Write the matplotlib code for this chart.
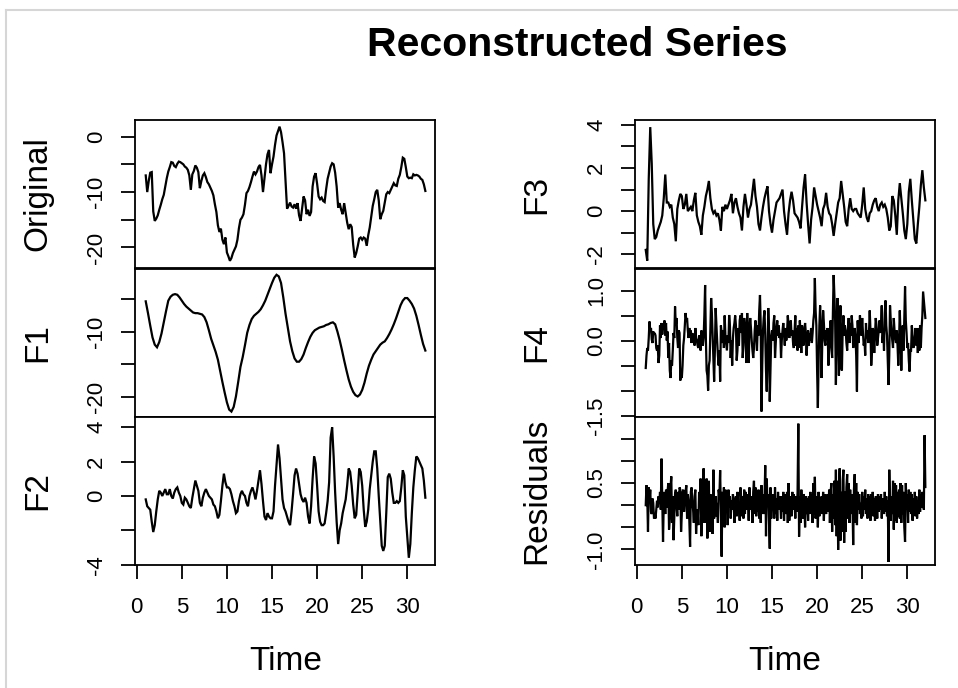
import numpy as np
import matplotlib
matplotlib.use("Agg")
import matplotlib.pyplot as plt
from matplotlib.lines import Line2D

plt.rcParams['font.family'] = ['Liberation Sans', 'DejaVu Sans']

# ---------------- data (time series start at 1) ----------------
start_time = 1.0

orig_freq = 6
original = [
    -7.0, -10.0, -8.0, -6.5, -6.4, -13.5,
    -15.2, -14.8, -14.2, -13.2, -12.3, -11.3,
    -10.5, -9.0, -7.5, -6.3, -5.5, -4.6,
    -4.7, -5.3, -5.5, -4.9, -4.5, -4.6,
    -4.8, -5.0, -5.4, -5.6, -6.0, -7.0,
    -9.6, -6.8, -6.2, -5.2, -5.6, -6.4,
    -9.3, -8.0, -7.0, -6.6, -7.3, -8.2,
    -8.6, -9.2, -9.8, -10.6, -12.2, -13.6,
    -16.0, -17.2, -16.6, -18.6, -19.4, -18.2,
    -20.9, -21.6, -22.4, -21.9, -21.0, -20.4,
    -19.8, -18.6, -16.5, -15.0, -14.6, -14.0,
    -12.3, -10.2, -9.8, -9.1, -8.2, -7.2,
    -6.3, -6.8, -6.3, -5.5, -5.1, -7.0,
    -10.0, -7.5, -5.0, -3.2, -2.4, -6.6,
    -5.0, -3.6, -1.5, 0.2, 1.0, 1.8,
    0.8, -1.0, -3.0, -8.0, -13.0, -12.5,
    -11.9, -12.6, -12.8, -12.2, -13.0, -12.0,
    -14.2, -15.2, -13.0, -10.8, -11.5, -14.0,
    -13.2, -14.3, -13.6, -9.0, -7.2, -6.6,
    -8.5, -10.8, -11.3, -11.0, -11.6, -11.8,
    -9.5, -7.6, -6.5, -5.4, -4.8, -5.0,
    -6.5, -9.0, -12.8, -12.0, -13.2, -14.0,
    -12.0, -13.8, -15.5, -16.7, -15.8, -16.3,
    -19.5, -21.8, -21.0, -19.8, -18.4, -18.2,
    -18.6, -18.2, -18.4, -19.7, -17.8, -16.4,
    -14.5, -12.5, -11.3, -10.0, -9.6, -11.5,
    -14.9, -14.0, -13.4, -11.9, -10.4, -10.0,
    -10.2, -9.6, -9.0, -8.4, -8.8, -8.9,
    -7.6, -6.9, -5.5, -3.8, -4.0, -5.5,
    -7.2, -7.5, -7.4, -7.5, -6.8, -7.0,
    -6.9, -7.0, -7.2, -7.6, -7.8, -8.6,
    -9.8,
]

f1_freq = 4
f1 = [
    -5.4, -7.2, -9.1, -10.9, -12.0, -12.4, -11.6, -10.3,
    -8.6, -6.9, -5.3, -4.7, -4.4, -4.3, -4.4, -4.8,
    -5.3, -5.8, -6.2, -6.5, -6.8, -7.1, -7.2, -7.2,
    -7.3, -7.4, -7.8, -8.6, -9.8, -11.1, -12.1, -13.1,
    -14.3, -16.0, -17.7, -19.3, -20.8, -21.9, -22.2, -21.5,
    -19.9, -17.7, -15.4, -13.9, -12.1, -10.2, -9.0, -8.1,
    -7.6, -7.3, -7.0, -6.6, -6.0, -5.3, -4.4, -3.5,
    -2.6, -1.8, -1.35, -1.6, -2.6, -4.8, -7.3, -9.4,
    -11.5, -13.0, -14.1, -14.6, -14.6, -14.2, -13.5, -12.5,
    -11.6, -10.8, -10.2, -9.8, -9.6, -9.4, -9.3, -9.2,
    -9.0, -8.9, -8.7, -8.6, -8.9, -10.0, -11.3, -12.8,
    -14.4, -15.9, -17.3, -18.4, -19.2, -19.7, -19.9, -19.6,
    -18.9, -17.8, -16.4, -15.2, -14.3, -13.5, -13.0, -12.5,
    -12.0, -11.7, -11.5, -11.0, -10.4, -9.7, -8.9, -8.0,
    -7.0, -6.0, -5.3, -4.9, -4.9, -5.3, -5.8, -6.5,
    -7.6, -9.0, -10.5, -11.9, -12.9,
]

f2_freq = 6
f2 = [
    -0.2, -0.6, -0.7, -0.8, -1.5, -2.1,
    -1.7, -0.9, -0.2, 0.3, 0.2, 0.0,
    0.2, 0.4, 0.1, 0.1, 0.4, 0.0,
    -0.15, 0.2, 0.4, 0.5, 0.2, 0.0,
    -0.4, -0.5, -0.1, -0.2, -0.4, -0.6,
    -0.7, -0.1, 0.4, 0.9, 0.6, 0.3,
    -0.4, -0.6, -0.1, 0.2, 0.4, 0.2,
    0.0, -0.1, -0.2, -0.5, -0.6, -0.9,
    -1.3, -1.1, -0.3, 0.6, 1.3, 0.8,
    0.5, 0.5, 0.4, 0.1, -0.3, -0.6,
    -1.0, -0.9, -0.3, 0.1, 0.3, 0.1,
    0.0, -0.4, -0.6, 0.0, 0.3, 0.5,
    0.2, -0.2, 0.3, 0.9, 1.5, 0.7,
    -0.3, -1.2, -1.4, -1.0, -1.2, -1.3,
    -1.3, -0.9, 0.6, 1.8, 3.0, 2.2,
    1.0, -0.2, -0.7, -0.9, -1.2, -1.5,
    -1.7, -0.9, 0.1, 1.2, 1.6, 1.3,
    0.7, 0.1, -0.2, -0.35, -0.1, -0.4,
    -1.2, -1.6, -0.6, 1.0, 2.3, 1.9,
    0.6, -0.9, -1.5, -1.7, -1.7, -1.6,
    -1.0, -0.3, 0.8, 3.4, 4.0, 2.3,
    0.2, -1.5, -2.8, -2.0, -1.6, -1.0,
    -0.6, -0.2, 0.6, 1.6, 1.4, 0.6,
    -0.5, -1.3, -1.1, 0.2, 1.6, 1.4,
    0.6, -0.8, -1.8, -1.5, -0.8, 0.4,
    1.2, 2.0, 2.6, 2.6, 1.6, 0.0,
    -1.4, -2.9, -3.2, -2.9, -1.0, 1.1,
    1.3, 1.0, 0.2, -0.4, -0.4, -0.3,
    -0.4, -0.3, 0.5, 1.5, 1.2, -1.2,
    -2.4, -3.6, -2.8, -1.0, 0.5, 1.5,
    2.3, 2.2, 2.0, 1.8, 1.6, 0.9,
    -0.1,
]

f3_freq = 6
f3 = [
    -1.8, -2.3, 1.5, 3.9, 2.2, -0.6,
    -1.3, -1.2, -0.9, -0.7, -0.5, -0.2,
    0.6, 1.7, 0.4, 0.4, 0.2, 0.3,
    -0.3, -0.6, -1.4, 0.1, 0.5, 0.8,
    0.7, 0.1, 0.3, 0.8, 0.0, 0.1,
    0.2, 0.0, 0.5, 0.85, -0.2, -0.5,
    -0.7, -1.1, -0.2, 0.2, 0.7, 1.0,
    1.4, 0.6, 0.1, -0.1, 0.0, -0.2,
    -0.1, -0.4, -0.9, 0.2, 0.0, 0.3,
    0.1, 0.3, 0.5, 0.8, -0.1, 0.4,
    0.6, 0.2, -0.1, -0.3, -0.9, 0.2,
    0.8, 0.3, -0.3, 0.1, 0.3, 0.9,
    1.5, 0.7, 0.2, -0.6, -0.9, -0.3,
    0.2, 0.6, 0.9, 1.15, 0.0, -0.6,
    -1.0, -0.4, 0.0, 0.4, 0.5, 0.6,
    0.8, 1.0, 0.0, -0.6, -1.1, -0.1,
    0.5, 0.9, 0.5, -0.1, -0.2, -0.3,
    -0.5, -0.8, 0.2, 1.1, 1.7, 0.4,
    -0.6, -1.5, -0.4, 0.2, 1.1, 0.7,
    0.3, 0.0, -0.3, -0.7, 0.1, 0.3,
    0.85, 0.2, -0.1, -0.2, -0.6, -1.15,
    -0.6, -0.1, 0.4, 0.6, 1.4, 0.8,
    0.2, -0.5, -0.7, 0.1, 0.6, 0.1,
    0.0, 0.1, 0.1, -0.1, -0.2, -0.3,
    0.3, 1.1, 0.1, -0.3, -0.5, -0.1,
    0.0, 0.3, 0.5, 0.6, 0.2, 0.0,
    0.3, 0.4, 0.2, 0.3, 0.1, -0.3,
    -0.9, -0.7, 0.7, 0.5, -0.2, -1.1,
    0.5, 1.3, 0.6, -0.1, -0.9, -1.3,
    -0.6, 0.9, 1.5, 0.5, -0.4, -1.3,
    -1.5, -0.6, 0.2, 1.2, 1.9, 1.1,
    0.5,
]

f4_freq = 12
f4 = [
    -0.55, -0.30, -0.15, -0.20, 0.05, 0.38, 0.20, 0.25, 0.02, -0.05, 0.18, 0.12,
    0.15, 0.10, -0.15, -0.20, -0.10, -0.45, -0.30, 0.30, 0.05, 0.35, 0.12, 0.30,
    0.28, 0.40, 0.10, 0.35, 0.00, 0.18, -0.35, -0.05, -0.60, -0.75, -0.40, -0.50,
    -0.20, 0.15, 0.05, 0.68, 0.30, 0.45, 0.05, -0.15, 0.20, 0.15, -0.80, -0.60,
    -0.75, -0.50, -0.10, 0.05, 0.30, 0.55, 0.40, 0.45, 0.20, 0.05, 0.25, 0.10,
    0.20, -0.05, 0.15, 0.00, 0.10, -0.10, 0.25, 0.05, 0.00, -0.10, -0.15, 0.10,
    0.00, -0.20, 0.20, 0.10, -0.10, 0.05, 0.50, 1.11, 0.05, -0.60, -0.70, -1.00,
    -0.50, -0.40, 0.20, 0.85, 0.55, 0.10, -0.30, -0.82, -0.20, 0.65, 0.30, 0.00,
    -0.30, -0.50, -0.20, -0.82, 0.30, 0.15, -0.05, 0.20, -0.15, 0.50, 0.10, -0.05,
    -0.20, 0.10, -0.05, 0.51, 0.30, -0.35, 0.00, -0.50, 0.05, 0.25, 0.35, 0.50,
    0.30, -0.40, -0.20, 0.25, -0.10, 0.40, 0.50, 0.15, 0.55, -0.35, -0.10, 0.45,
    0.30, 0.00, -0.45, 0.55, 0.10, -0.45, 0.20, 0.45, 0.25, 0.00, -0.20, -0.35,
    -0.15, 0.20, 0.40, 0.10, -0.20, 0.30, 0.10, 0.60, 0.91, 0.30, -1.42, -0.50,
    0.20, 0.45, 0.60, 0.10, -0.60, -1.02, -0.30, 0.65, 0.20, -1.22, -0.60, 0.10,
    0.20, 0.00, 0.35, 0.50, -0.35, -0.05, 0.25, 0.40, 0.10, 0.30, 0.05, 0.15,
    -0.35, 0.00, 0.20, 0.35, 0.15, -0.10, 0.25, 0.00, 0.15, 0.50, 0.30, 0.05,
    0.25, 0.40, 0.10, 0.20, -0.05, -0.15, 0.20, 0.50, -0.10, 0.25, -0.20, 0.30,
    -0.15, 0.40, 0.15, -0.25, 0.30, 0.05, -0.10, 0.20, 0.35, 0.15, -0.30, 0.00,
    0.20, -0.10, 0.15, 0.00, 0.25, -0.05, 0.15, 0.40, 0.55, 1.25, 0.60, 0.30,
    -0.60, -1.35, -0.40, 0.30, 0.70, 0.20, -0.75, 0.10, 0.60, 0.35, 0.00, -0.10,
    0.20, 0.10, 0.25, -0.50, -0.20, 0.15, 0.40, -0.10, -0.35, 0.55, 1.31, 0.90,
    0.40, -0.89, 0.20, 0.85, 0.20, -0.70, 0.00, 0.70, -0.55, -0.60, 0.20, 0.50,
    0.10, 0.30, 0.20, -0.05, -0.20, 0.20, 0.45, -0.05, 0.35, 0.10, 0.50, 0.30,
    -0.15, 0.00, 0.25, 0.10, -0.30, -1.02, 0.40, -0.05, 0.15, 0.50, 0.20, 0.10,
    0.45, 0.15, -0.10, 0.00, -0.30, 0.35, 0.05, 0.20, -0.05, 0.15, 0.60, 0.20,
    -0.50, -0.20, 0.25, 0.15, -0.25, 0.10, 0.45, 0.30, -0.10, 0.05, 0.20, 0.40,
    0.15, 0.30, 0.70, -0.05, 0.20, -0.20, 0.55, 0.80, 0.30, 0.10, -0.40, -0.89,
    -0.30, 0.70, 0.40, 0.15, 0.00, -0.15, 0.45, 0.20, 0.05, -0.05, 0.20, -0.10,
    -0.50, 0.00, 0.60, 0.10, -0.60, 0.00, 0.30, -0.20, 0.40, 1.08, 0.40, 0.15,
    -0.15, -0.05, -0.40, -0.62, -0.20, -0.20, 0.30, 0.10, -0.15, -0.05, 0.05, 0.25,
    -0.10, 0.15, -0.25, 0.25, -0.20, 0.30, -0.15, 0.25, 0.50, 0.98, 0.80, 0.60,
    0.45,
]

res_freq = 12
residuals = [
    0.00, 0.45, 0.20, -0.60, 0.40, 0.10, 0.35, -0.15, -0.20, 0.15, 0.05, -0.30,
    -0.20, -0.30, -0.10, 0.10, -0.05, 0.20, 0.05, 0.30, -0.10, 1.05, 0.10, -0.83,
    0.10, 0.30, -0.20, 0.35, -0.05, 0.30, 0.50, -0.55, -0.30, 0.40, 0.65, -0.40,
    0.20, -0.79, -0.30, 0.25, 0.35, 0.00, -0.25, 0.30, -0.10, 0.40, 0.35, -0.60,
    -0.20, 0.30, 0.35, -0.15, 0.05, 0.30, 0.45, -0.30, 0.25, 0.10, -0.35, -0.94,
    0.30, 0.40, 0.05, -0.10, -0.40, 0.20, 0.35, -0.65, -0.20, -0.10, -0.45, 0.30,
    0.15, 0.60, -0.70, 0.10, 0.35, 0.83, -0.40, 0.55, -0.40, 0.60, -0.75, 0.35,
    0.55, -0.60, 0.25, -0.35, 0.20, -0.65, 0.80, -0.30, 0.00, 0.20, -0.25, 0.05,
    -0.40, 0.35, 0.20, 0.79, -0.20, -1.16, 0.30, -0.35, 0.40, -0.50, 0.35, -0.10,
    0.25, -0.45, 0.35, -0.05, 0.20, -0.30, 0.10, -0.10, 0.25, 0.05, -0.40, 0.10,
    0.20, -0.25, 0.30, -0.15, 0.05, -0.35, 0.40, 0.15, -0.25, 0.20, -0.30, 0.35,
    -0.20, 0.30, -0.10, 0.00, 0.25, -0.35, 0.40, -0.10, 0.20, 0.05, -0.40, 0.30,
    0.55, -0.20, 0.40, -0.25, 0.05, -0.15, 0.35, -0.30, 0.20, -0.40, 0.45, -0.20,
    0.25, -0.20, 0.10, 0.90, -0.70, 0.60, 0.00, 0.25, -0.35, -0.98, 0.40, -0.30,
    0.10, 0.00, 0.25, -0.30, 0.40, -0.20, 0.15, -0.35, 0.30, -0.10, 0.20, 0.05,
    -0.30, 0.20, -0.15, 0.30, -0.35, 0.25, 0.05, -0.20, 0.30, -0.40, 0.50, -0.35,
    0.20, 0.00, -0.25, 0.30, -0.10, 0.25, 0.05, -0.30, 0.20, -0.15, 0.30, 1.84,
    -0.71, 0.20, -0.40, 0.35, -0.05, -0.30, 0.25, 0.15, -0.50, 0.20, -0.20, 0.15,
    -0.35, 0.20, -0.20, 0.30, -0.10, 0.25, -0.40, 0.50, -0.20, 0.64, -0.30, 0.10,
    0.20, -0.50, 0.30, -0.25, 0.15, -0.10, 0.20, -0.20, 0.30, -0.35, 0.25, 0.05,
    -0.20, 0.10, 0.25, -0.15, 0.35, -0.40, 0.30, 0.50, -0.60, 0.25, -0.30, 0.55,
    -0.45, 0.80, -0.70, 0.55, -1.01, 0.20, 0.83, -0.80, 0.30, -0.60, 0.55, 0.80,
    -0.85, 0.30, -0.60, 0.40, 0.70, -0.30, 0.50, -0.40, 0.35, -0.20, 0.25, 0.10,
    -0.90, 0.35, 0.70, -0.40, 0.50, -0.45, 0.30, -0.10, 0.25, -0.20, 0.05, -0.30,
    0.30, -0.25, 0.20, -0.10, 0.35, -0.20, 0.15, -0.30, 0.25, -0.05, 0.20, -0.35,
    0.25, -0.10, 0.30, -0.25, 0.15, -0.35, 0.20, 0.05, -0.30, 0.25, -0.15, 0.20,
    -0.10, 0.25, -0.30, 0.15, 0.00, -0.20, 0.30, -0.15, 0.20, -0.25, 0.10, -1.28,
    0.80, 0.00, -0.35, 0.20, -0.20, 0.55, -0.55, 0.50, -0.35, 0.45, -0.40, 0.30,
    -0.25, 0.35, -0.30, 0.50, -0.40, 0.45, -0.20, 0.30, -0.50, -0.83, 0.50, -0.10,
    0.25, -0.40, 0.35, -0.15, 0.30, -0.20, 0.25, -0.35, 0.15, -0.10, 0.30, -0.25,
    0.20, -0.30, 0.10, -0.20, 0.35, -0.15, 0.25, -0.05, 0.30, 0.10, -0.10, 1.58,
    0.41,
]

panel_names = ["Original", "F1", "F2", "F3", "F4", "Residuals"]

y_ticks = {
    "Original": [-20, -15, -10, -5, 0],
    "F1": [-20, -15, -10, -5],
    "F2": [-4, -2, 0, 2, 4],
    "F3": [-2, -1, 0, 1, 2, 3, 4],
    "F4": [-1.5, -1.0, -0.5, 0.0, 0.5, 1.0],
    "Residuals": [-1.0, -0.5, 0.0, 0.5, 1.0, 1.5],
}
y_tick_labels = {
    "Original": ["-20", "", "-10", "", "0"],
    "F1": ["-20", "", "-10", ""],
    "F2": ["-4", "", "0", "2", "4"],
    "F3": ["-2", "", "0", "", "2", "", "4"],
    "F4": ["-1.5", "", "", "0.0", "", "1.0"],
    "Residuals": ["-1.0", "", "", "0.5", "", ""],
}
y_limits = {
    "Original": (-23.7, 3.0),
    "F1": (-23.03, -0.47),
    "F2": (-4.02, 4.6),
    "F3": (-2.64, 4.23),
    "F4": (-1.53, 1.43),
    "Residuals": (-1.35, 1.99),
}
x_ticks = [0, 5, 10, 15, 20, 25, 30]
x_limits = (-0.19, 33.07)

series = {
    "Original": (original, orig_freq),
    "F1": (f1, f1_freq),
    "F2": (f2, f2_freq),
    "F3": (f3, f3_freq),
    "F4": (f4, f4_freq),
    "Residuals": (residuals, res_freq),
}

# ---------------- layout ----------------
W, H = 958, 688
fig = plt.figure(figsize=(W / 100, H / 100), dpi=100)
fig.patch.set_facecolor("white")

col_left = [135, 635]
col_width = 300
row_top = [120, 269, 417]
row_height = 148

TICK_FS = 16
LABEL_FS = 24

for idx, name in enumerate(panel_names):
    col = idx // 3
    row = idx % 3
    x0 = col_left[col]
    y0 = row_top[row]
    ax = fig.add_axes([x0 / W, 1 - (y0 + row_height) / H, col_width / W, row_height / H])
    vals, freq = series[name]
    t = start_time + np.arange(len(vals)) / freq
    ax.plot(t, vals, color="black", lw=1.6, solid_joinstyle="miter")
    ax.set_xlim(*x_limits)
    ax.set_ylim(*y_limits[name])
    for sp in ax.spines.values():
        sp.set_linewidth(1.3)
        sp.set_color("black")
    ax.set_yticks(y_ticks[name])
    ax.set_yticklabels(y_tick_labels[name], rotation=90, va="center",
                       fontsize=TICK_FS)
    ax.tick_params(axis="y", direction="out", length=10, width=1.3, pad=10)
    if row == 2:
        ax.set_xticks(x_ticks)
        ax.set_xticklabels([str(v) for v in x_ticks], fontsize=TICK_FS)
        ax.tick_params(axis="x", direction="out", length=10, width=1.3, pad=13)
    else:
        ax.set_xticks([])
    # panel label
    lab_x = 38 if col == 0 else 537
    fig.text(lab_x / W, 1 - (y0 + row_height / 2) / H, name, rotation=90,
             ha="center", va="center", fontsize=LABEL_FS)

# x labels
for cx in [286, 785]:
    fig.text(cx / W, 1 - 662 / H, "Time", ha="center", va="center", fontsize=LABEL_FS)

# title
fig.text(577 / W, 1 - 45 / H, "Reconstructed Series", ha="center", va="center",
         fontsize=29.5, fontweight="bold")

# screenshot frame lines
fig.add_artist(Line2D([5.5 / W, 1.0], [1 - 9.5 / H, 1 - 9.5 / H], color="#d6d6d6", lw=1.5))
fig.add_artist(Line2D([5.5 / W, 5.5 / W], [0.0, 1 - 9.5 / H], color="#d6d6d6", lw=1.5))

fig.savefig("out.png", dpi=100, facecolor="white")
